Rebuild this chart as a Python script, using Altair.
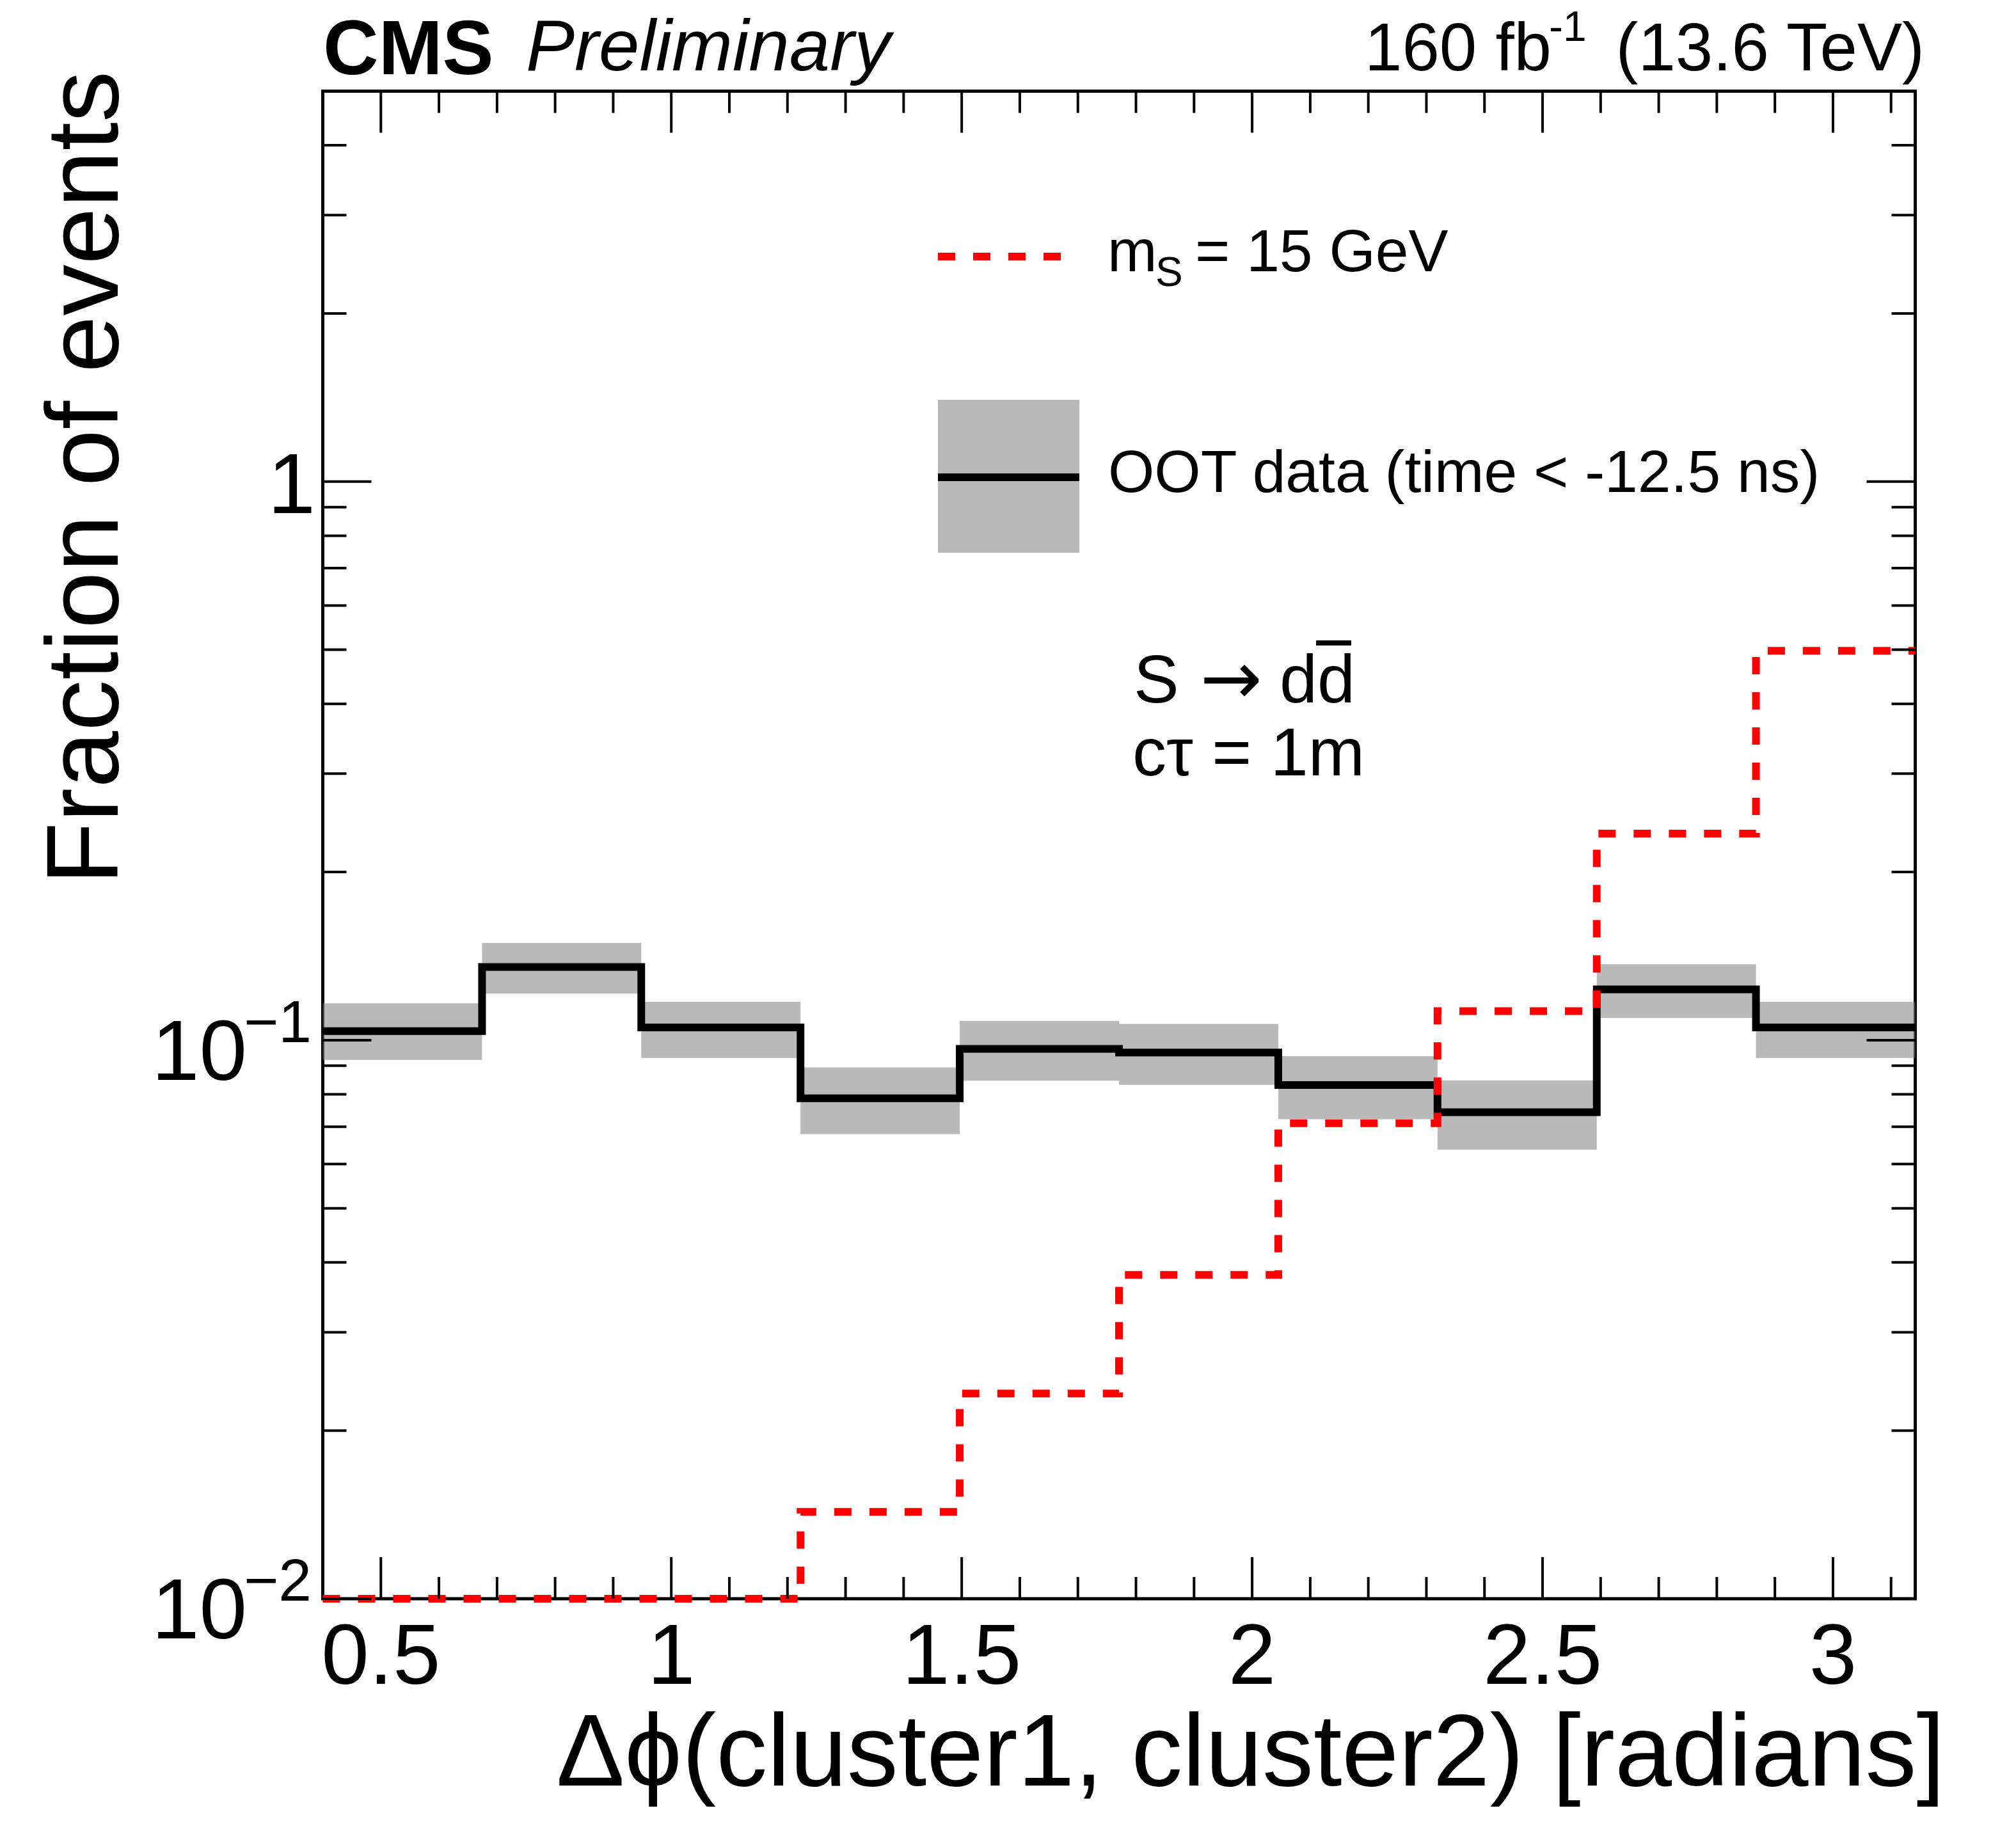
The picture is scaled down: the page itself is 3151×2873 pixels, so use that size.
import altair as alt
import pandas as pd

# ---------------- data ----------------
bin_edges = [0.4, 0.6742, 0.9483, 1.2225, 1.4966, 1.7708, 2.0450, 2.3191, 2.5933, 2.8674, 3.14159]
oot_frac = [0.1038, 0.1352, 0.1054, 0.0787, 0.0965, 0.0950, 0.0831, 0.0743, 0.1233, 0.1054]
oot_err_lo = [0.0922, 0.1212, 0.0929, 0.0679, 0.0846, 0.0832, 0.0722, 0.0637, 0.1096, 0.0929]
oot_err_hi = [0.1164, 0.1493, 0.1171, 0.0894, 0.1083, 0.1069, 0.0936, 0.0847, 0.1367, 0.1171]
sig_frac = [0.01, 0.01, 0.01, 0.0143, 0.0233, 0.0380, 0.0710, 0.1127, 0.2344, 0.4977]

x_major = [0.5, 1.0, 1.5, 2.0, 2.5, 3.0]
x_labels = ["0.5", "1", "1.5", "2", "2.5", "3"]
x_minor = [0.6, 0.7, 0.8, 0.9, 1.1, 1.2, 1.3, 1.4, 1.6, 1.7, 1.8, 1.9,
           2.1, 2.2, 2.3, 2.4, 2.6, 2.7, 2.8, 2.9, 3.1]
y_major = [0.01, 0.1, 1.0]
y_minor = [0.02, 0.03, 0.04, 0.05, 0.06, 0.07, 0.08, 0.09,
           0.2, 0.3, 0.4, 0.5, 0.6, 0.7, 0.8, 0.9, 2, 3, 4]
y_pow_vals = [0.01, 0.1]
y_pow_exps = ["\u22122", "\u22121"]
y_one_vals = [1.0]
y_one_labels = ["1"]

# ---------------- layout ----------------
X0, Y0 = 504.5, 142.5          # page position of the plot area origin
W, H = 2489, 2356.5
FONT = "Liberation Sans"
BAND = "#808080"
BAND_OP = 0.55

xs = alt.Scale(domain=[0.4, 3.14159], nice=False, zero=False)
ys = alt.Scale(type="log", domain=[0.01, 5], nice=False)


def X(f):
    return alt.X(f, type="quantitative", scale=xs, axis=None)


def Y(f):
    return alt.Y(f, type="quantitative", scale=ys, axis=None)


def px(x):
    return x - X0


def py(y):
    return y - Y0


dummy = pd.DataFrame({"a": [0]})


def txt(s, x, y, size, align="left", style="normal", weight="normal", angle=0, font=FONT):
    kw = dict(text=s, font=font, fontSize=size, align=align, baseline="alphabetic",
              color="black", fontStyle=style, fontWeight=weight)
    if angle:
        kw["angle"] = angle
    return alt.Chart(dummy).mark_text(**kw).encode(x=alt.value(px(x)), y=alt.value(py(y)))


layers = []

# uncertainty band
band_df = pd.DataFrame({"x0": bin_edges[:-1], "x1": bin_edges[1:],
                        "lo": oot_err_lo, "hi": oot_err_hi})
layers.append(alt.Chart(band_df).mark_rect(fill=BAND, opacity=BAND_OP).encode(
    x=X("x0"), x2=alt.X2("x1"), y=Y("lo"), y2=alt.Y2("hi")))

# histograms (step)
oot_df = pd.DataFrame({"x": bin_edges, "y": oot_frac + [oot_frac[-1]]})
sig_df = pd.DataFrame({"x": bin_edges, "y": sig_frac + [sig_frac[-1]]})
layers.append(alt.Chart(oot_df).mark_line(interpolate="step-after", color="black",
                                          strokeWidth=12, strokeCap="butt",
                                          strokeJoin="miter").encode(x=X("x"), y=Y("y")))
layers.append(alt.Chart(sig_df).mark_line(interpolate="step-after", color="#ff0000",
                                          strokeWidth=12, strokeDash=[27, 28],
                                          strokeCap="butt", strokeJoin="miter").encode(
    x=X("x"), y=Y("y")))

# ticks (inside the frame, on all four sides)
def xticks(vals, length):
    d = pd.DataFrame({"v": vals})
    bot = alt.Chart(d).mark_rule(color="black", strokeWidth=4).encode(
        x=X("v"), y=alt.value(H), y2=alt.value(H - length))
    top = alt.Chart(d).mark_rule(color="black", strokeWidth=4).encode(
        x=X("v"), y=alt.value(0), y2=alt.value(length))
    return [bot, top]


def yticks(vals, length):
    d = pd.DataFrame({"v": vals})
    left = alt.Chart(d).mark_rule(color="black", strokeWidth=4).encode(
        y=Y("v"), x=alt.value(0), x2=alt.value(length))
    right = alt.Chart(d).mark_rule(color="black", strokeWidth=4).encode(
        y=Y("v"), x=alt.value(W), x2=alt.value(W - length))
    return [left, right]


layers += xticks(x_major, 65) + xticks(x_minor, 34)
layers += yticks(y_major, 76) + yticks(y_minor, 37)

# tick labels
xl_df = pd.DataFrame({"v": x_major, "t": x_labels})
layers.append(alt.Chart(xl_df).mark_text(font=FONT, fontSize=134, align="center",
                                         baseline="alphabetic", color="black").encode(
    x=X("v"), y=alt.value(py(2632)), text="t"))
yp_df = pd.DataFrame({"v": y_pow_vals, "e": y_pow_exps})
layers.append(alt.Chart(yp_df).mark_text(text="10", font=FONT, fontSize=134, align="right",
                                         baseline="alphabetic", dy=62, color="black").encode(
    y=Y("v"), x=alt.value(px(386))))
layers.append(alt.Chart(yp_df).mark_text(font=FONT, fontSize=93, align="left",
                                         baseline="alphabetic", dy=3, color="black").encode(
    y=Y("v"), x=alt.value(px(381)), text="e"))
y1_df = pd.DataFrame({"v": y_one_vals, "t": y_one_labels})
layers.append(alt.Chart(y1_df).mark_text(font=FONT, fontSize=134, align="right",
                                         baseline="alphabetic", dy=49, color="black").encode(
    y=Y("v"), x=alt.value(px(493)), text="t"))

# axis titles
layers.append(txt("\u0394\u03d5(cluster1, cluster2) [radians]", 3040, 2791, 160, align="right"))
layers.append(txt("Fraction of events", 184, 111, 160, align="right", angle=270))

# header
layers.append(txt("CMS", 505, 116, 120, weight="bold"))
layers.append(txt("Preliminary", 822, 110, 114, style="italic"))
layers.append(txt("(13.6 TeV)", 3008, 110, 105, align="right"))
layers.append(txt("-1", 2421, 64, 66))
layers.append(txt("160 fb", 2425, 110, 105, align="right"))

# legend
layers.append(alt.Chart(dummy).mark_rule(color="#ff0000", strokeWidth=12, strokeDash=[27, 28],
                                         strokeCap="butt").encode(
    x=alt.value(px(1466)), x2=alt.value(px(1661)), y=alt.value(py(401))))
layers.append(txt("m", 1731, 424, 93))
layers.append(txt("S", 1806, 447, 64))
layers.append(txt("= 15 GeV", 1868, 424, 93))
layers.append(alt.Chart(dummy).mark_rect(fill=BAND, opacity=BAND_OP).encode(
    x=alt.value(px(1466)), x2=alt.value(px(1687)), y=alt.value(py(625)), y2=alt.value(py(864))))
layers.append(alt.Chart(dummy).mark_rule(color="black", strokeWidth=12, strokeCap="butt").encode(
    x=alt.value(px(1466)), x2=alt.value(px(1687)), y=alt.value(py(746))))
layers.append(txt("OOT data (time < -12.5 ns)", 1732, 769, 93))

# process text
layers.append(txt("S", 1772, 1098, 106))
layers.append(txt("\u2192", 1924, 1100, 116, align="center", font="DejaVu Sans"))
layers.append(txt("dd", 2000, 1098, 106))
layers.append(alt.Chart(dummy).mark_rule(color="black", strokeWidth=8, strokeCap="butt").encode(
    x=alt.value(px(2057)), x2=alt.value(px(2112)), y=alt.value(py(1005))))
layers.append(txt("c\u03c4 = 1m", 1770, 1212, 106))

chart = alt.layer(*layers).properties(
    width=W, height=H,
    autosize=alt.AutoSizeParams(type="none"),
    padding={"left": X0 - 8, "top": Y0 - 8, "right": 140, "bottom": 366},
    background="white",
).configure_view(stroke="black", strokeWidth=5)

chart.save("out.html", embed_options={"renderer": "svg", "actions": False})
